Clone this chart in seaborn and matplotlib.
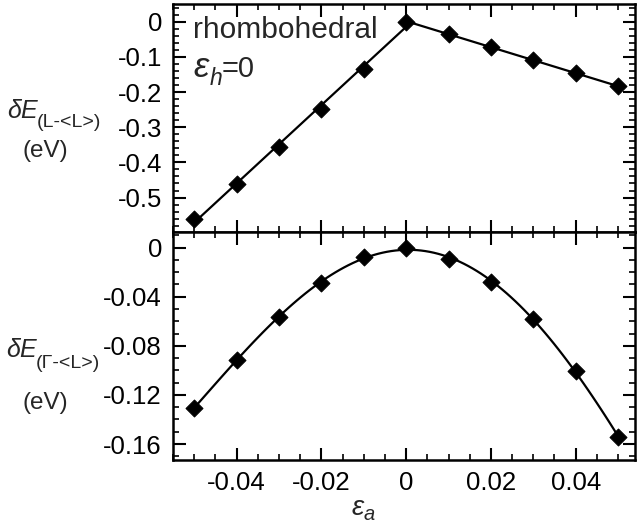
"""Band edge shifts vs. axial strain — rhombohedral, eps_h = 0"""

import numpy as np
import pandas as pd
import matplotlib
matplotlib.use('Agg')
import matplotlib.pyplot as plt
import seaborn as sns
from matplotlib.ticker import MultipleLocator, FuncFormatter

# data
strain = [-0.05, -0.04, -0.03, -0.02, -0.01, 0.0, 0.01, 0.02, 0.03, 0.04, 0.05]
dE_L = [-0.561, -0.461, -0.355, -0.247, -0.133, 0.0, -0.034, -0.071, -0.109, -0.146, -0.184]
dE_G = [-0.1305, -0.0916, -0.0563, -0.029, -0.0074, 0.0, -0.0095, -0.028, -0.058, -0.1006, -0.154]

df = pd.DataFrame({'strain': strain, 'L': dE_L, 'G': dE_G})

sns.set_theme(style='ticks')
plt.rcParams['font.family'] = ['Liberation Sans', 'DejaVu Sans']
plt.rcParams['mathtext.fontset'] = 'custom'
plt.rcParams['mathtext.rm'] = 'Liberation Sans'
plt.rcParams['mathtext.it'] = 'Liberation Sans:italic'
plt.rcParams['axes.unicode_minus'] = False

W, H = 637, 529
fig = plt.figure(figsize=(W / 100, H / 100), dpi=100)
L, R = 173, 635
ax1 = fig.add_axes([L / W, 1 - 232 / H, (R - L) / W, 228 / H])
ax2 = fig.add_axes([L / W, 1 - 460 / H, (R - L) / W, 228 / H], sharex=ax1)

line_kw = dict(color='black', lw=1.6)

# top: two linear branches meeting at zero strain
left = df[df.strain <= 0]
right = df[df.strain >= 0]
sns.regplot(data=left, x='strain', y='L', order=1, ci=None, scatter=False,
            line_kws=line_kw, ax=ax1)
sns.regplot(data=right, x='strain', y='L', order=1, ci=None, scatter=False,
            line_kws=line_kw, ax=ax1)
sns.scatterplot(data=df, x='strain', y='L', marker='D', color='black',
                s=75, edgecolor='black', zorder=3, ax=ax1)

# bottom: smooth fit through the points
sns.regplot(data=df, x='strain', y='G', order=4, ci=None, scatter=False,
            line_kws=line_kw, ax=ax2)
sns.scatterplot(data=df, x='strain', y='G', marker='D', color='black',
                s=75, edgecolor='black', zorder=3, ax=ax2)


def fmt(v, pos):
    s = f'{round(v, 4):g}'
    return '0' if s in ('-0', '0') else s


ax1.set_xlim(-0.055, 0.054)
ax1.set_ylim(-0.598, 0.0506)
ax2.set_ylim(-0.173, 0.0127)

ax1.yaxis.set_major_locator(MultipleLocator(0.1))
ax1.yaxis.set_minor_locator(MultipleLocator(0.02))
ax2.yaxis.set_major_locator(MultipleLocator(0.04))
ax2.yaxis.set_minor_locator(MultipleLocator(0.01))
ax2.xaxis.set_major_locator(MultipleLocator(0.02))
ax2.xaxis.set_minor_locator(MultipleLocator(0.005))

for ax in (ax1, ax2):
    ax.set_xlabel('')
    ax.set_ylabel('')
    ax.yaxis.set_major_formatter(FuncFormatter(fmt))
    ax.xaxis.set_major_formatter(FuncFormatter(fmt))
    ax.tick_params(which='both', direction='in', top=True, right=True,
                   colors='black', labelsize=18.5, pad=8)
    ax.tick_params(which='major', length=9, width=1.5)
    ax.tick_params(which='minor', length=4.5, width=1.2)
    for sp in ax.spines.values():
        sp.set_linewidth(1.8)
        sp.set_color('black')
        sp.set_visible(True)
ax1.tick_params(labelbottom=False)


def put(x, y, s, size, **kw):
    # place text by pixel position (x left, y baseline from top)
    fig.text(x / W, 1 - y / H, s, fontsize=size, ha='left', va='baseline', **kw)


# y labels, built in pieces so the subscript can be sized freely
put(7, 118, r'$\delta E$', 18)
put(37, 127, '(L-<L>)', 14)
put(22, 157, '(eV)', 17.5)
put(6, 357, r'$\delta E$', 18)
put(36, 368, '(Γ-<L>)', 14)
put(22, 409, '(eV)', 17.5)

# panel annotation
put(193, 38, 'rhombohedral', 21.5)
put(193, 77, r'$\varepsilon$', 25)
put(210, 85, 'h', 16.5, style='italic')
put(222, 77, '=0', 21)

# x label
put(351, 515, r'$\varepsilon$', 20)
put(364, 520, 'a', 14.5, style='italic')

fig.savefig('out.png', dpi=100)
